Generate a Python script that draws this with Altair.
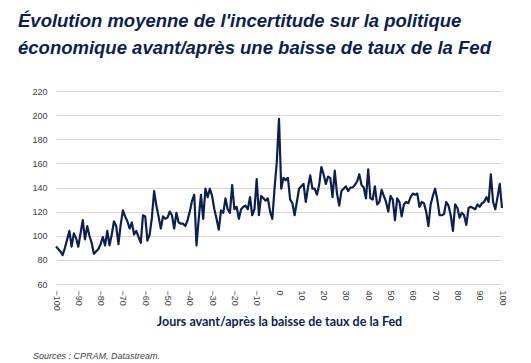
import altair as alt
import pandas as pd

days = list(range(-100, 101))
values = [
    91, 89, 87, 84, 90, 97, 104, 91, 102, 98,
    91, 102, 113, 97, 108, 100, 94, 85, 87, 89,
    93, 99, 92, 104, 92, 101, 112, 108, 93, 109,
    121, 116, 112, 106, 111, 101, 104, 99, 94, 117,
    116, 96, 101, 115, 137, 125, 116, 106, 116, 114,
    115, 120, 117, 106, 119, 111, 110, 110, 108, 113,
    120, 129, 134, 92, 114, 134, 114, 139, 132, 139,
    133, 122, 114, 105, 121, 119, 131, 122, 119, 142,
    122, 124, 114, 122, 124, 125, 122, 132, 117, 122,
    147, 117, 133, 131, 129, 131, 120, 114, 139, 161,
    197,
    139, 148, 146, 148, 130, 127, 117, 128, 139, 141,
    143, 128, 140, 150, 139, 139, 134, 142, 157, 151,
    143, 149, 148, 132, 154, 135, 125, 137, 139, 141,
    137, 140, 140, 142, 145, 151, 142, 140, 131, 155,
    131, 130, 141, 126, 128, 138, 133, 128, 120, 133,
    130, 113, 131, 128, 116, 126, 128, 127, 132, 135,
    134, 135, 124, 128, 127, 120, 108, 126, 133, 139,
    130, 117, 117, 118, 128, 125, 117, 104, 126, 123,
    115, 119, 117, 109, 123, 124, 123, 122, 126, 124,
    127, 128, 132, 128, 151, 128, 122, 132, 143, 123,
]
x_ticks = list(range(-100, 101, 10))
y_ticks = list(range(60, 221, 20))

title_lines = [
    "Évolution moyenne de l'incertitude sur la politique",
    "économique avant/après une baisse de taux de la Fed",
]
x_title = "Jours avant/après la baisse de taux de la Fed"
source_text = ["Sources : CPRAM, Datastream."]

df = pd.DataFrame({"jour": days, "valeur": values})
navy = "#0c1f4f"

line = alt.Chart(df).mark_line(color=navy, strokeWidth=2.2, strokeJoin="round").encode(
    x=alt.X(
        "jour:Q",
        scale=alt.Scale(domain=[-100, 100], nice=False, zero=False),
        axis=alt.Axis(
            values=x_ticks,
            labelAngle=90,
            grid=False,
            domain=False,
            ticks=False,
            labelFont="Liberation Sans",
            labelFontSize=9,
            labelColor="#404040",
            labelPadding=6,
            labelFlush=False,
            labelOverlap=False,
            title=x_title,
            titleFont="Lato",
            titleFontSize=12.5,
            titleFontWeight="bold",
            titleColor=navy,
            titlePadding=5,
        ),
    ),
    y=alt.Y(
        "valeur:Q",
        scale=alt.Scale(domain=[60, 220], nice=False, zero=False),
        axis=alt.Axis(
            values=y_ticks,
            grid=True,
            gridColor="#d9d9d9",
            gridWidth=1,
            domain=False,
            ticks=False,
            labelFont="Liberation Sans",
            labelFontSize=9,
            labelColor="#404040",
            labelPadding=9,
            title=None,
        ),
    ),
)

src_df = pd.DataFrame({"t": source_text})
source = alt.Chart(src_df).mark_text(
    align="left", baseline="middle", font="Liberation Sans", fontSize=9,
    fontStyle="italic", color="#404040",
).encode(text="t:N", x=alt.value(-23), y=alt.value(265))

chart = alt.layer(line, source).properties(
    width=446,
    height=193,
    padding={"left": 48, "top": 83, "right": 21, "bottom": 80},
    autosize=alt.AutoSizeParams(type="none"),
    title=alt.TitleParams(
        text=title_lines,
        anchor="start",
        frame="group",
        font="Liberation Sans",
        fontSize=18.5,
        fontWeight="bold",
        fontStyle="italic",
        color=navy,
        lineHeight=27,
        dx=-38,
        offset=30,
    ),
).configure_view(stroke=None)

chart.save("out.html", embed_options={"renderer": "svg", "actions": False})
